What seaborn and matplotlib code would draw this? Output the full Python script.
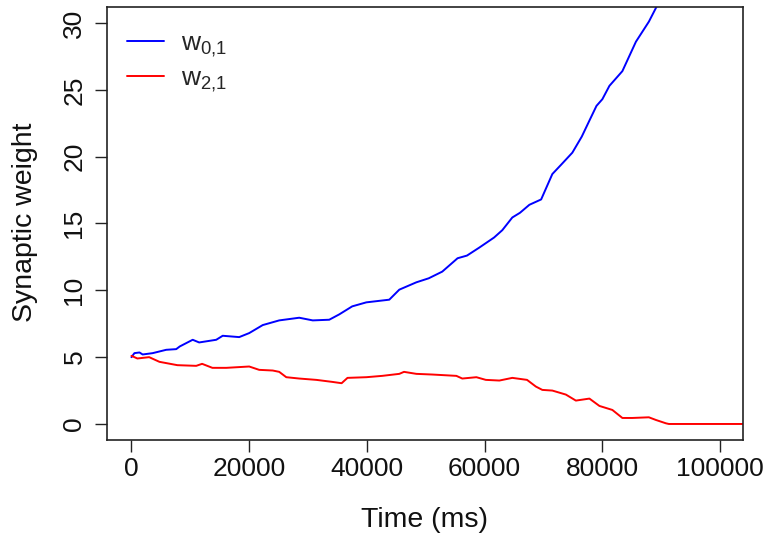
import numpy as np
import pandas as pd
import matplotlib
matplotlib.use("Agg")
import matplotlib.pyplot as plt
import seaborn as sns

# Synaptic weight traces over simulation time (ms)
time_w01 = [0, 500, 1360, 1900, 3600, 5900, 7600, 8200, 10400, 11500, 14400,
            15500, 18300, 20000, 22300, 25100, 28500, 30800, 33600, 35300,
            37500, 39900, 43800, 45500, 48400, 50500, 52800, 55400, 57000,
            59100, 61600, 63000, 64700, 66000, 67600, 69600, 71500, 73000,
            74900, 76500, 77800, 79000, 80000, 81200, 83400, 85700, 87900,
            89300, 91000]
weight_w01 = [5.0, 5.3, 5.35, 5.2, 5.3, 5.55, 5.6, 5.8, 6.3, 6.1, 6.3,
              6.6, 6.5, 6.8, 7.4, 7.75, 7.95, 7.75, 7.8, 8.2,
              8.8, 9.1, 9.3, 10.05, 10.6, 10.9, 11.4, 12.4, 12.6,
              13.2, 13.95, 14.5, 15.45, 15.8, 16.4, 16.8, 18.7, 19.4,
              20.3, 21.5, 22.7, 23.8, 24.3, 25.3, 26.4, 28.6, 30.1,
              31.3, 32.5]

time_w21 = [0, 1000, 3000, 4750, 7800, 11000, 12000, 13750, 16100, 20000,
            21700, 24000, 25100, 26300, 28500, 31400, 34100, 35700, 36700,
            39900, 42600, 45500, 46300, 48400, 51100, 55200, 56200, 58600,
            60200, 62500, 64700, 67200, 68700, 69800, 71500, 73800, 75500,
            77800, 79500, 81700, 83400, 85100, 87900, 89100, 90800, 91300,
            110000]
weight_w21 = [5.1, 4.9, 5.0, 4.65, 4.4, 4.35, 4.5, 4.2, 4.2, 4.3,
              4.05, 4.0, 3.9, 3.5, 3.4, 3.3, 3.15, 3.05, 3.45,
              3.5, 3.6, 3.75, 3.9, 3.75, 3.7, 3.6, 3.4, 3.5,
              3.3, 3.25, 3.45, 3.3, 2.8, 2.55, 2.5, 2.2, 1.75,
              1.9, 1.35, 1.05, 0.45, 0.45, 0.5, 0.3, 0.05, 0.0,
              0.0]

series_names = ["w01", "w21"]
series_labels = [r"w$_{0{,}1}$", r"w$_{2{,}1}$"]
series_colors = ["#0000FF", "#FF0000"]

x_ticks = [0, 20000, 40000, 60000, 80000, 100000]
y_ticks = [0, 5, 10, 15, 20, 25, 30]

df = pd.concat([
    pd.DataFrame({"time": time_w01, "weight": weight_w01, "synapse": series_names[0]}),
    pd.DataFrame({"time": time_w21, "weight": weight_w21, "synapse": series_names[1]}),
], ignore_index=True)

sns.set_style("ticks")
plt.rcParams["font.family"] = ["Liberation Sans", "DejaVu Sans"]
plt.rcParams["mathtext.fontset"] = "custom"
plt.rcParams["mathtext.rm"] = "Liberation Sans"
plt.rcParams["mathtext.it"] = "Liberation Sans"
plt.rcParams["mathtext.default"] = "regular"

fig = plt.figure(figsize=(7.68, 5.37), dpi=100)
ax = fig.add_axes([0.139, 0.1806, 0.8285, 0.8064])

sns.lineplot(data=df, x="time", y="weight", hue="synapse",
             hue_order=series_names, palette=series_colors,
             linewidth=1.4, ax=ax, legend=False, sort=False,
             estimator=None)

ax.set_xlim(-4200, 103900)
ax.set_ylim(-1.2, 31.2)
ax.set_xticks(x_ticks)
ax.set_xticklabels([str(v) for v in x_ticks])
ax.set_yticks(y_ticks)
ax.set_yticklabels([str(v) for v in y_ticks], rotation=90, va="center")

for sp in ax.spines.values():
    sp.set_visible(True)
    sp.set_color("#222222")
    sp.set_linewidth(1.2)

ax.tick_params(axis="both", length=8.6, width=1.0, color="#222222",
               labelsize=19, labelcolor="#111111")
ax.tick_params(axis="x", pad=3.5)
ax.tick_params(axis="y", pad=6)

ax.set_xlabel("Time (ms)", fontsize=20.5, color="#111111")
ax.set_ylabel("Synaptic weight", fontsize=20.5, color="#111111")
ax.xaxis.set_label_coords(0.5, -0.155)
ax.yaxis.set_label_coords(-0.108, 0.502)

handles = [plt.Line2D([], [], color=c, linewidth=1.4) for c in series_colors]
ax.legend(handles, series_labels, loc="upper left", frameon=False,
          fontsize=19, handlelength=1.4, handletextpad=0.64,
          labelspacing=0.3, borderaxespad=0.0,
          bbox_to_anchor=(0.015, 0.969))

fig.savefig("out.png", dpi=100)
